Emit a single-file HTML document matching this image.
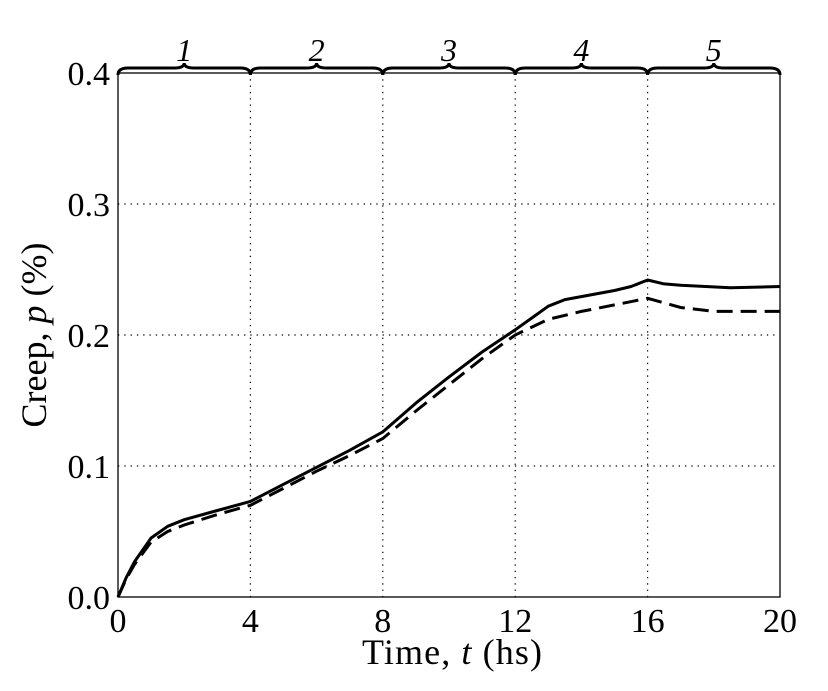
<!DOCTYPE html>
<html><head><meta charset="utf-8"><style>
body{margin:0;background:#fff}
text{font-family:"Liberation Serif",serif;fill:#000}
</style></head><body>
<svg id="chart" width="828" height="686" xmlns="http://www.w3.org/2000/svg">
<g id="grid"></g>
<g id="braces"></g>
<g id="series"></g>
<rect x="118" y="73" width="662" height="524" fill="none" stroke="#000" stroke-width="1.3"/>
<g id="ticks"></g>
<text x="452" y="664" font-size="36" text-anchor="middle" textLength="180">Time, <tspan font-style="italic">t</tspan> (hs)</text>
<text transform="translate(46,335) rotate(-90)" font-size="36" text-anchor="middle">Creep, <tspan font-style="italic">p</tspan> (%)</text>
</svg>
<script>
const xTicks=[0,4,8,12,16,20];
const yTicks=[0.0,0.1,0.2,0.3,0.4];
const yTickLabels=["0.0","0.1","0.2","0.3","0.4"];
const stageLabels=["1","2","3","4","5"];
const solidT=[0,0.25,0.5,1,1.5,2,3,4,5,6,7,8,9,10,11,12,12.5,13,13.5,15,15.5,16,16.5,17,18.5,20];
const solidP=[0,0.015,0.027,0.045,0.054,0.059,0.066,0.073,0.086,0.099,0.112,0.126,0.148,0.168,0.187,0.204,0.213,0.222,0.227,0.234,0.237,0.242,0.239,0.238,0.236,0.237];
const dashT=[0,0.25,0.5,1,1.5,2,3,4,5,6,7,8,9,10,11,12,13,14,15,16,17,18,20];
const dashP=[0,0.014,0.025,0.042,0.050,0.055,0.063,0.070,0.083,0.096,0.108,0.121,0.142,0.162,0.182,0.200,0.212,0.218,0.223,0.228,0.221,0.218,0.218];
const NS="http://www.w3.org/2000/svg";
const X=t=>118+t*(662/20), Y=p=>597-p*(524/0.4);
function mk(tag,parent,attrs){const e=document.createElementNS(NS,tag);for(const k in attrs)e.setAttribute(k,attrs[k]);parent.appendChild(e);return e;}
const grid=document.getElementById('grid'),ticks=document.getElementById('ticks'),series=document.getElementById('series'),braces=document.getElementById('braces');
xTicks.forEach((t,i)=>{
 if(i>0&&i<xTicks.length-1){const l=mk('line',grid,{x1:X(t),x2:X(t),y1:73,y2:597,stroke:'#000','stroke-width':1.2,'stroke-dasharray':'1.3,5'});
 
 }
 const tx=mk('text',ticks,{x:X(t),y:632,'font-size':34,'text-anchor':'middle'});tx.textContent=t;
 
 
});
yTicks.forEach((v,i)=>{
 if(i>0&&i<yTicks.length-1){const l=mk('line',grid,{x1:118,x2:780,y1:Y(v),y2:Y(v),stroke:'#000','stroke-width':1.2,'stroke-dasharray':'1.3,5'});
 
 }
 const tx=mk('text',ticks,{x:110,y:Y(v)+12,'font-size':34,'text-anchor':'end'});tx.textContent=yTickLabels[i];
 
 
});
function pathOf(T,P){return T.map((t,i)=>(i?'L':'M')+X(t).toFixed(1)+','+Y(P[i]).toFixed(1)).join(' ');}
const s=mk('path',series,{d:pathOf(solidT,solidP),fill:'none',stroke:'#000','stroke-width':3,'stroke-linejoin':'round'});


const d=mk('path',series,{d:pathOf(dashT,dashP),fill:'none',stroke:'#000','stroke-width':3,'stroke-dasharray':'16,8'});


stageLabels.forEach((lab,i)=>{
 const a=X(i*4),b=X(i*4+4),m=(a+b)/2,yb=75,yt=63,ym=68;
 const p=mk('path',braces,{d:`M${a},${yb} Q${a},${ym} ${a+10},${ym} L${m-10},${ym} Q${m},${ym} ${m},${yt} Q${m},${ym} ${m+10},${ym} L${b-10},${ym} Q${b},${ym} ${b},${yb}`,fill:'none',stroke:'#000','stroke-width':3});
 
 
 const t=mk('text',braces,{x:m,y:61,'font-size':32,'font-style':'italic','text-anchor':'middle'});t.textContent=lab;
 
 
});
</script>
</body></html>
